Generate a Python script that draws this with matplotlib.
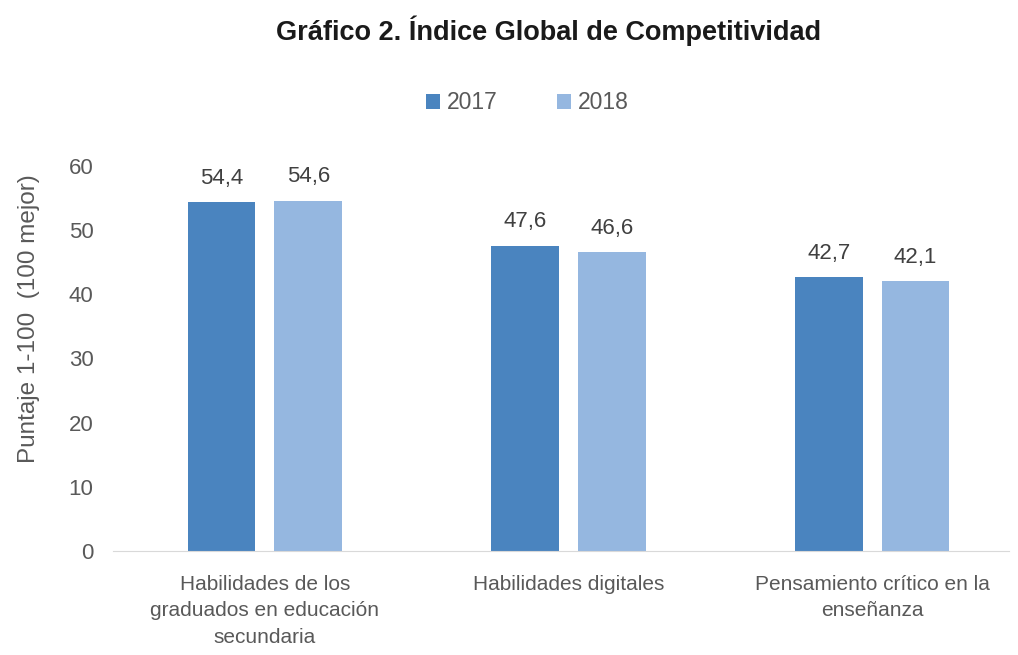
import matplotlib
matplotlib.use("Agg")
import matplotlib.pyplot as plt
import numpy as np

categories = ["Habilidades de los\ngraduados en educación\nsecundaria",
              "Habilidades digitales",
              "Pensamiento crítico en la\nenseñanza"]
years = ["2017", "2018"]
values_2017 = [54.4, 47.6, 42.7]
values_2018 = [54.6, 46.6, 42.1]

plt.rcParams['font.family'] = ['Liberation Sans', 'DejaVu Sans']

fig = plt.figure(figsize=(10.18, 6.55), dpi=100)
ax = fig.add_axes([0.111, 0.1588, 0.88, 0.5878])

x = np.arange(len(categories))
w = 0.223
off = 0.143
colors = ["#4a84bf", "#95b7e0"]
b1 = ax.bar(x - off, values_2017, w, color=colors[0], label=years[0])
b2 = ax.bar(x + off, values_2018, w, color=colors[1], label=years[1])

# etiquetas de valor con coma decimal
for bars, vals in [(b1, values_2017), (b2, values_2018)]:
    for bar, v in zip(bars, vals):
        ax.text(bar.get_x() + bar.get_width() / 2, v + 3.7, f"{v:.1f}".replace(".", ","),
                ha="center", va="center", fontsize=16, color="#404040")

ax.set_ylim(0, 60)
ax.set_xlim(-0.5, 2.45)
ax.set_yticks(range(0, 61, 10))
ax.set_xticks(x)
ax.set_xticklabels(categories, fontsize=15, color="#595959", linespacing=1.5)
ax.tick_params(axis="y", labelsize=16, labelcolor="#595959", length=0, pad=14)
ax.tick_params(axis="x", length=0, pad=17)
for s in ["top", "right", "left"]:
    ax.spines[s].set_visible(False)
ax.spines["bottom"].set_color("#d9d9d9")
ax.set_ylabel("Puntaje 1-100  (100 mejor)", fontsize=17.5, color="#595959")
ax.yaxis.set_label_coords(-0.082, 0.603)

fig.text(0.539, 0.953, "Gráfico 2. Índice Global de Competitividad", ha="center", va="center",
         fontsize=19.5, fontweight="bold", color="#1a1a1a")
fig.legend(loc="center", bbox_to_anchor=(0.518, 0.843), ncol=2, frameon=False, fontsize=16.5,
           handlelength=0.6, handleheight=0.6, columnspacing=2.6, handletextpad=0.3,
           labelcolor="#595959")

fig.savefig("out.png", dpi=100)
